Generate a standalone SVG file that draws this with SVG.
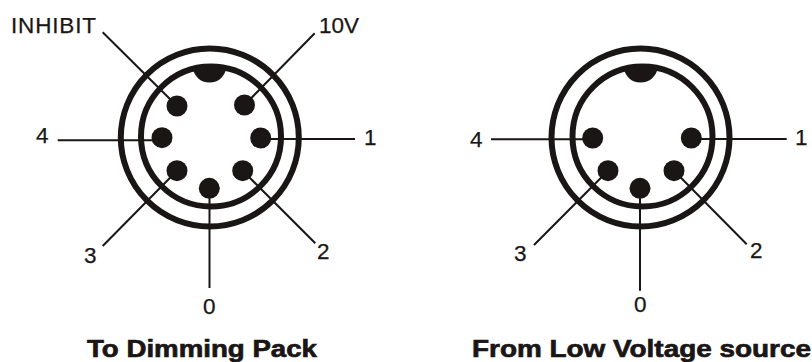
<svg xmlns="http://www.w3.org/2000/svg" width="812" height="362" viewBox="0 0 812 362">
<style>
.ring{fill:none;stroke:#1a1616;stroke-width:6}
.pin,.key{fill:#1a1616}
.wire{fill:none;stroke:#1a1616;stroke-width:2}
text{font-family:"Liberation Sans",Arial,sans-serif;fill:#1a1616}
.lab{font-size:22.500px;stroke:#1a1616;stroke-width:.25px}
.title{font-size:24.500px;font-weight:bold;stroke:#1a1616;stroke-width:.7px}
</style>
<rect width="812" height="362" fill="#fff"/>
<g id="connectors">
<path class="wire" d="M102.700 32.300L177 106M314.700 33.300L244.500 105M57.700 140.300H162M355 139H260.700M102.700 246L177 170.700M315.300 243.300L242.700 170.700M209.500 288V188.300"/>
<path class="wire" d="M491 139.300H592.700M786.700 139H691.300M534 245L608 170.700M746.700 244.300L674 170.700M640 290.700V188.300"/>
</g>
<g id="connector-left">
<circle class="ring" cx="209.800" cy="137.500" r="89"/>
<circle class="ring" cx="211" cy="136.500" r="70"/>
<path class="key" d="M192 67Q201 64 209.500 64Q218 64 227 67C224 77 219 82.500 209.500 82.500C200 82.500 195 77 192 67Z"/>
<circle class="pin" cx="177" cy="106" r="10.500"/>
<circle class="pin" cx="244.500" cy="105" r="10.500"/>
<circle class="pin" cx="162" cy="137.700" r="10.500"/>
<circle class="pin" cx="260.700" cy="138" r="10.500"/>
<circle class="pin" cx="177" cy="170.700" r="10.500"/>
<circle class="pin" cx="242.700" cy="170.700" r="10.500"/>
<circle class="pin" cx="209.300" cy="188.300" r="10.500"/>
</g>
<g id="connector-right">
<circle class="ring" cx="640.500" cy="137.500" r="89"/>
<circle class="ring" cx="642.500" cy="136.500" r="70"/>
<path class="key" d="M623 67Q632 64 640.500 64Q649 64 658.500 67C655.500 77 650 82.500 640.500 82.500C631 82.500 626 77 623 67Z"/>
<circle class="pin" cx="592.700" cy="138" r="10.500"/>
<circle class="pin" cx="691.300" cy="138" r="10.500"/>
<circle class="pin" cx="608" cy="170.700" r="10.500"/>
<circle class="pin" cx="674" cy="170.700" r="10.500"/>
<circle class="pin" cx="640" cy="188.300" r="10.500"/>
</g>
<g id="labels">
<text class="lab" x="11" y="32.500" textLength="85">INHIBIT</text>
<text class="lab" x="319" y="32.500">10V</text>
<text class="lab" x="36" y="143">4</text>
<text class="lab" x="364" y="145">1</text>
<text class="lab" x="84" y="263">3</text>
<text class="lab" x="317" y="259">2</text>
<text class="lab" x="203" y="314">0</text>
<text class="lab" x="470" y="147">4</text>
<text class="lab" x="795" y="145">1</text>
<text class="lab" x="514" y="261">3</text>
<text class="lab" x="750" y="258">2</text>
<text class="lab" x="634" y="312">0</text>
<text class="title" x="87" y="357" textLength="230" lengthAdjust="spacingAndGlyphs">To Dimming Pack</text>
<text class="title" x="472" y="357" textLength="339" lengthAdjust="spacingAndGlyphs">From Low Voltage source</text>
</g>
</svg>
